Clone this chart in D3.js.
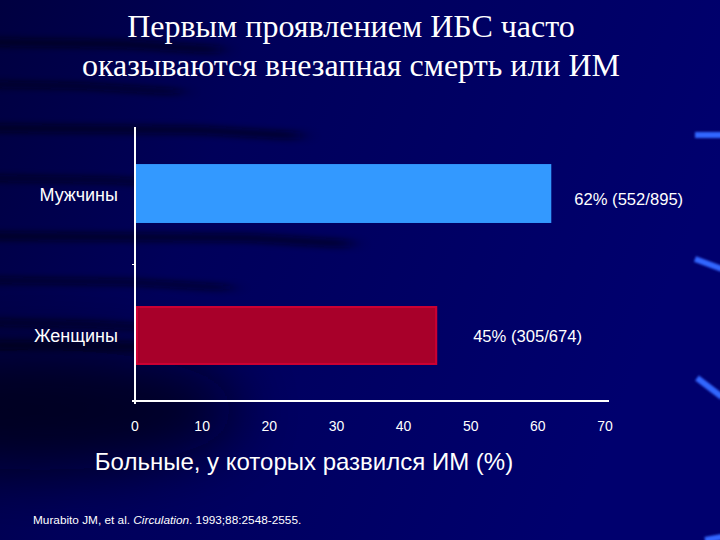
<!DOCTYPE html>
<html><head><meta charset="utf-8">
<script src="https://cdn.jsdelivr.net/npm/d3@7"></script>
<style>
html,body{margin:0;padding:0;background:#000066;overflow:hidden}
.serif{font-family:"Liberation Serif","Tinos","Times New Roman",Times,serif}
.sans{font-family:"Liberation Sans",Arimo,Arial,Helvetica,sans-serif}
</style>
</head><body>
<script>
const titleLines = ["Первым проявлением ИБС часто", "оказываются внезапная смерть или ИМ"];
const categories = ["Мужчины", "Женщины"];
const values = [62, 45];
const valueLabels = ["62% (552/895)", "45% (305/674)"];
const xTicks = [0, 10, 20, 30, 40, 50, 60, 70];
const xTitle = "Больные, у которых развился ИМ (%)";
const citation = ["Murabito JM, et al. ", "Circulation", ". 1993;88:2548-2555."];

const W = 720, H = 540;
const svg = d3.select("body").append("svg").attr("width", W).attr("height", H);
const defs = svg.append("defs");

// background
const bg = defs.append("linearGradient").attr("id", "bg").attr("x1", 0).attr("y1", 0).attr("x2", 1).attr("y2", 0.3);
bg.append("stop").attr("offset", 0).attr("stop-color", "#000040");
bg.append("stop").attr("offset", 0.35).attr("stop-color", "#00005a");
bg.append("stop").attr("offset", 1).attr("stop-color", "#00006e");
svg.append("rect").attr("width", W).attr("height", H).attr("fill", "url(#bg)");

const blur = defs.append("filter").attr("id", "blur").attr("x", "-20%").attr("y", "-300%").attr("width", "140%").attr("height", "700%");
blur.append("feGaussianBlur").attr("stdDeviation", "10 3");
const blur2 = defs.append("filter").attr("id", "blur2").attr("x", "-50%").attr("y", "-50%").attr("width", "200%").attr("height", "200%");
blur2.append("feGaussianBlur").attr("stdDeviation", 30);
const blur3 = defs.append("filter").attr("id", "blur3").attr("filterUnits", "userSpaceOnUse")
  .attr("x", 680).attr("y", 0).attr("width", 60).attr("height", 540);
blur3.append("feGaussianBlur").attr("stdDeviation", 1.2);

// decorative dark streaks (background only)
const deco = svg.append("g").attr("pointer-events", "none");
deco.append("ellipse").attr("cx", 40).attr("cy", 410).attr("rx", 200).attr("ry", 60).attr("fill", "#000010").attr("opacity", 0.7).attr("filter", "url(#blur2)");
const streaks = [[42, 120, 4], [84, 80, 3], [128, 200, 4], [178, 110, 3], [236, 250, 4], [280, 130, 3], [322, 90, 3], [345, 200, 4]];
streaks.forEach(s => {
  deco.append("path")
    .attr("d", `M-20,${s[0]} L${s[1]},${s[0] + 2} L${s[1] + 100},${s[0] + 8}`)
    .attr("stroke", "#000010").attr("stroke-width", s[2] * 2).attr("fill", "none")
    .attr("opacity", 0.6).attr("filter", "url(#blur)");
});
// right edge accents (filled quads so blur works on horizontal ones too)
const accG = deco.append("g").attr("filter", "url(#blur3)");
[[695, 135, 722, 135], [695, 259, 722, 269], [697, 378, 722, 397], [705, 540, 722, 537]].forEach(a => {
  const dx = a[2] - a[0], dy = a[3] - a[1], len = Math.hypot(dx, dy);
  const nx = -dy / len * 3, ny = dx / len * 3;
  accG.append("path")
    .attr("d", `M${a[0] + nx},${a[1] + ny} L${a[2] + nx},${a[3] + ny} L${a[2] - nx},${a[3] - ny} L${a[0] - nx},${a[1] - ny} Z`)
    .attr("fill", "#3366ff");
});

// title
svg.append("g").selectAll("text").data(titleLines).join("text")
  .attr("class", "serif")
  .attr("x", 351).attr("y", (d, i) => 37 + i * 39)
  .attr("text-anchor", "middle")
  .attr("font-size", 32).attr("fill", "#ffffff")
  .text(d => d);

// scales
const x = d3.scaleLinear().domain([0, 70]).range([135, 605]);
const y = d3.scaleBand().domain(categories).range([128, 401]).paddingInner(0.585).paddingOuter(0.254);
const fills = ["#3399ff", "#a8002a"];
const strokes = ["#3399ff", "#cc0033"];

const g = svg.append("g");
g.selectAll("rect.bar").data(values).join("rect").attr("class", "bar")
  .attr("x", x(0) + 1).attr("y", (d, i) => y(categories[i]))
  .attr("width", d => x(d) - x(0) - 1).attr("height", y.bandwidth())
  .attr("fill", (d, i) => fills[i]);
g.selectAll("rect.edge").data(values).join("rect").attr("class", "edge")
  .attr("x", x(0) + 2).attr("y", (d, i) => y(categories[i]) + 1)
  .attr("width", d => x(d) - x(0) - 3).attr("height", y.bandwidth() - 2)
  .attr("fill", "none").attr("stroke", (d, i) => strokes[i]).attr("stroke-width", (d, i) => i ? 2 : 0);

// value labels
const labelOffsets = [23, 36];
g.selectAll("text.val").data(values).join("text").attr("class", "val sans")
  .attr("x", (d, i) => x(d) + labelOffsets[i])
  .attr("y", (d, i) => y(categories[i]) + y.bandwidth() / 2 + 11 - i * 4)
  .attr("font-size", 16.6).attr("fill", "#ffffff")
  .text((d, i) => valueLabels[i]);

// category labels
g.selectAll("text.cat").data(categories).join("text").attr("class", "cat sans")
  .attr("x", 118).attr("y", d => y(d) + y.bandwidth() / 2 + 7)
  .attr("text-anchor", "end")
  .attr("font-size", 18).attr("fill", "#ffffff")
  .text(d => d);

// axes
const axisColor = "#ffffff";
g.append("line").attr("x1", x(0)).attr("x2", x(0)).attr("y1", 127).attr("y2", 404)
  .attr("stroke", axisColor).attr("stroke-width", 2);
g.append("line").attr("x1", x(0) - 3).attr("x2", 609).attr("y1", 401).attr("y2", 401)
  .attr("stroke", axisColor).attr("stroke-width", 2);
// category boundary tick
const midY = (y(categories[0]) + y.bandwidth() + y(categories[1])) / 2;
g.append("line").attr("x1", x(0) - 3).attr("x2", x(0)).attr("y1", midY).attr("y2", midY)
  .attr("stroke", axisColor).attr("stroke-width", 1);

g.selectAll("text.tick").data(xTicks).join("text").attr("class", "tick sans")
  .attr("x", d => x(d)).attr("y", 431)
  .attr("text-anchor", "middle")
  .attr("font-size", 14).attr("fill", "#ffffff")
  .text(d => d);

svg.append("text").attr("class", "sans").attr("x", 304).attr("y", 470).attr("text-anchor", "middle")
  .attr("font-size", 24).attr("fill", "#ffffff").text(xTitle);

const cit = svg.append("text").attr("class", "sans").attr("x", 33).attr("y", 524)
  .attr("font-size", 11.8).attr("fill", "#ffffff");
citation.forEach((t, i) => cit.append("tspan").attr("font-style", i === 1 ? "italic" : "normal").text(t));
</script>
</body></html>
